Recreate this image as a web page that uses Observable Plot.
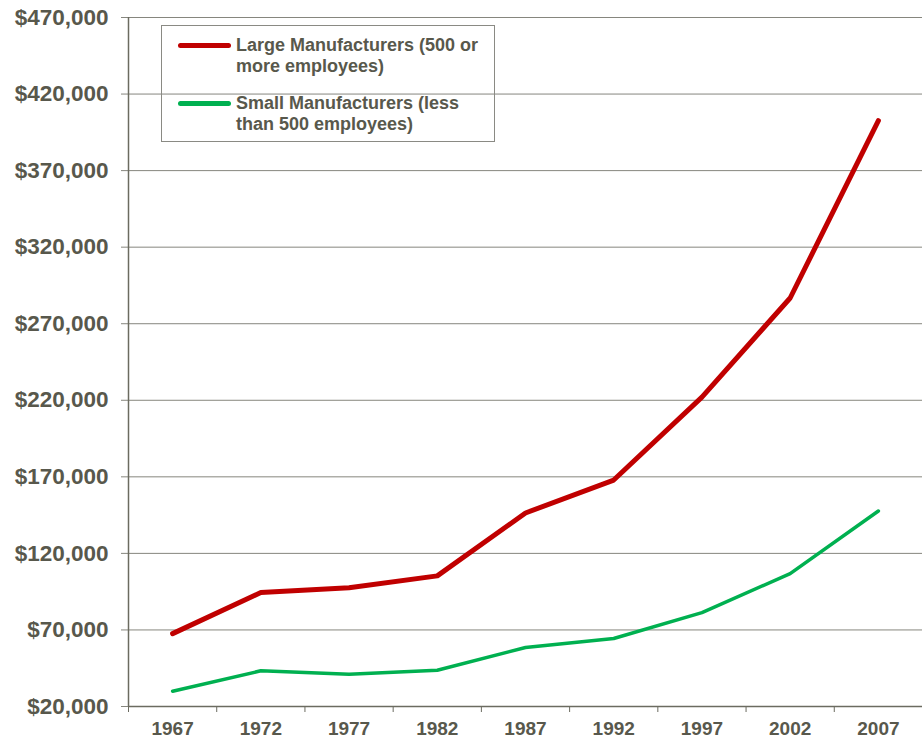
<!DOCTYPE html>
<html>
<head>
<meta charset="utf-8">
<script src="https://cdn.jsdelivr.net/npm/d3@7"></script>
<script src="https://cdn.jsdelivr.net/npm/@observablehq/plot@0.6"></script>
<style>
  body { margin: 0; background: #fff; font-family: "Liberation Sans", Arial, sans-serif; }
  #wrap { position: relative; width: 922px; height: 738px; }
  #legend { position: absolute; left: 161px; top: 25px; width: 332px; height: 115px; border: 1px solid #8a8a84; box-sizing: content-box; }
  .sw { position: absolute; left: 16px; width: 53px; height: 5px; border-radius: 3px; }
  .lbl { position: absolute; left: 74px; font-size: 18px; font-weight: bold; line-height: 21px; color: #58584c; white-space: nowrap; }
</style>
</head>
<body>
<div id="wrap"><div id="chart"></div><div id="legend"></div></div>
<script>
const years = [1967, 1972, 1977, 1982, 1987, 1992, 1997, 2002, 2007];
const large = [67600, 94400, 97600, 105300, 146400, 167900, 222100, 286800, 402600];
const small = [30000, 43300, 41100, 43700, 58500, 64400, 81300, 106800, 147700];
const yTicks = [20000, 70000, 120000, 170000, 220000, 270000, 320000, 370000, 420000, 470000];
const seriesNames = ["Large Manufacturers (500 or\nmore employees)", "Small Manufacturers (less\nthan 500 employees)"];
const seriesColors = ["#c00000", "#00b050"];

const half = 2.5;
const boundaries = [years[0] - half, ...years.map(y => y + half)];
const textColor = "#58584c";

const data = [
  ...years.map((y, i) => ({year: y, value: large[i], series: 0})),
  ...years.map((y, i) => ({year: y, value: small[i], series: 1}))
];

const chart = Plot.plot({
  width: 922,
  height: 738,
  marginLeft: 128,
  marginRight: 0,
  marginTop: 17,
  marginBottom: 32,
  style: {fontFamily: '"Liberation Sans", Arial, sans-serif', color: textColor, background: "#fff"},
  x: {domain: [years[0] - half, years[years.length - 1] + half]},
  y: {domain: [yTicks[0], yTicks[yTicks.length - 1]]},
  marks: [
    Plot.gridY(yTicks, {stroke: "#86867e", strokeOpacity: 1, strokeWidth: 1}),
    Plot.axisY({ticks: yTicks, tickSize: 7, tickPadding: 13, stroke: "#86867e", strokeOpacity: 1,
      tickFormat: d => "$" + d3.format(",")(d), fontSize: 22.5, fontWeight: "bold", fill: textColor, label: null}),
    Plot.axisX({ticks: boundaries, tickSize: 6, tickFormat: () => "", stroke: "#6b6b60", label: null}),
    Plot.axisX({ticks: years, tickSize: 0, tickPadding: 15, tickFormat: d => String(d),
      fontSize: 19, fontWeight: "bold", fill: textColor, label: null}),
    Plot.ruleX([years[0] - half], {stroke: "#6b6b60", strokeWidth: 1.5}),
    Plot.ruleY([yTicks[0]], {stroke: "#6b6b60", strokeWidth: 1.5}),
    Plot.line(data.filter(d => d.series === 1), {x: "year", y: "value", stroke: seriesColors[1], strokeWidth: 3.5, strokeLinejoin: "round"}),
    Plot.line(data.filter(d => d.series === 0), {x: "year", y: "value", stroke: seriesColors[0], strokeWidth: 5, strokeLinecap: "round", strokeLinejoin: "round"})
  ]
});
document.getElementById("chart").appendChild(chart);

const legend = document.getElementById("legend");
const tops = [19, 77];
seriesNames.forEach((name, i) => {
  const sw = document.createElement("div");
  sw.className = "sw";
  sw.style.top = (tops[i] - 2.5) + "px";
  sw.style.background = seriesColors[i];
  legend.appendChild(sw);
  const lb = document.createElement("div");
  lb.className = "lbl";
  lb.style.top = (tops[i] - 10.5) + "px";
  name.split("\n").forEach((t, j) => {
    if (j) lb.appendChild(document.createElement("br"));
    lb.appendChild(document.createTextNode(t));
  });
  legend.appendChild(lb);
});
</script>
</body>
</html>
